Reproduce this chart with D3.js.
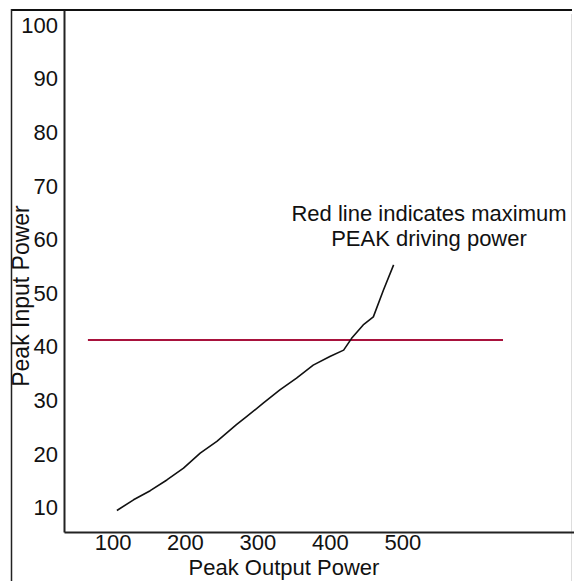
<!DOCTYPE html>
<html>
<head>
<meta charset="utf-8">
<script src="https://cdn.jsdelivr.net/npm/d3@7"></script>
<style>
  html, body { margin: 0; padding: 0; background: #fff; }
  svg { display: block; }
  text { font-family: "Liberation Sans", Arial, Helvetica, sans-serif; fill: #111; }
</style>
</head>
<body>
<svg id="chart" width="574" height="581"></svg>
<script>
// ---- data ----
const outputPower = [106, 129, 152, 175, 198, 221, 244, 271, 285, 308, 331, 354, 377, 400, 419, 430, 446, 460, 474, 488];
const inputPower  = [9.5, 11.5, 13.2, 15.2, 17.4, 20.2, 22.4, 25.5, 27.0, 29.5, 32.0, 34.2, 36.6, 38.2, 39.4, 41.6, 44.1, 45.6, 50.6, 55.3];
const maxDriveLevel = 41.3;
const maxDriveSpan = [66, 639];
const xTicks = [100, 200, 300, 400, 500];
const yTicks = [10, 20, 30, 40, 50, 60, 70, 80, 90, 100];
const xTitle = "Peak Output Power";
const yTitle = "Peak Input Power";
const noteLines = ["Red line indicates maximum", "PEAK driving power"];

// ---- layout ----
const svg = d3.select("#chart");
const W = 574, H = 581;
const plot = { left: 64, right: 574, top: 10, bottom: 532 };

const x = d3.scaleLinear().domain([33, 737]).range([plot.left, plot.right]);
const y = d3.scaleLinear().domain([5.5, 102.8]).range([plot.bottom, plot.top]);

svg.append("rect").attr("width", W).attr("height", H).attr("fill", "#fff");

// outer frame
svg.append("line").attr("x1", 11).attr("x2", 572).attr("y1", 10).attr("y2", 10)
  .attr("stroke", "#111").attr("stroke-width", 2);
svg.append("line").attr("x1", 11.5).attr("x2", 11.5).attr("y1", 9).attr("y2", H)
  .attr("stroke", "#222").attr("stroke-width", 1.5);
svg.append("line").attr("x1", 571.5).attr("x2", 571.5).attr("y1", 14).attr("y2", H)
  .attr("stroke", "#ddd").attr("stroke-width", 1);

// axes
const fontSize = 22;
const yAxis = d3.axisLeft(y).tickValues(yTicks).tickSize(0).tickPadding(6).tickFormat(d3.format("d"));
const xAxis = d3.axisBottom(x).tickValues(xTicks).tickSize(0).tickPadding(2).tickFormat(d3.format("d"));

const gy = svg.append("g").attr("transform", `translate(${plot.left},0)`).call(yAxis);
const gx = svg.append("g").attr("transform", `translate(0,${plot.bottom})`).call(xAxis);
[gx, gy].forEach(g => {
  g.select(".domain").attr("stroke", "#222").attr("stroke-width", 2);
  g.selectAll("text").attr("font-size", fontSize).attr("fill", "#111")
    .attr("font-family", "'Liberation Sans', Arial, sans-serif");
});

// titles
svg.append("text")
  .attr("x", 284).attr("y", 575)
  .attr("text-anchor", "middle")
  .attr("font-size", fontSize)
  .text(xTitle);

svg.append("text")
  .attr("transform", "translate(29,296) rotate(-90)")
  .attr("text-anchor", "middle")
  .attr("font-size", 23)
  .text(yTitle);

// red limit line
svg.append("line")
  .attr("x1", x(maxDriveSpan[0])).attr("x2", x(maxDriveSpan[1]))
  .attr("y1", y(maxDriveLevel)).attr("y2", y(maxDriveLevel))
  .attr("stroke", "#a8123c").attr("stroke-width", 2);

// data curve
const pts = outputPower.map((v, i) => [v, inputPower[i]]);
svg.append("path")
  .datum(pts)
  .attr("fill", "none")
  .attr("stroke", "#111")
  .attr("stroke-width", 1.6)
  .attr("stroke-linejoin", "round")
  .attr("d", d3.line().x(d => x(d[0])).y(d => y(d[1])));

// annotation
const note = svg.append("text")
  .attr("text-anchor", "middle")
  .attr("font-size", fontSize);
noteLines.forEach((t, i) => {
  note.append("tspan").attr("x", 429).attr("y", 221 + i * 25).text(t);
});
</script>
</body>
</html>
